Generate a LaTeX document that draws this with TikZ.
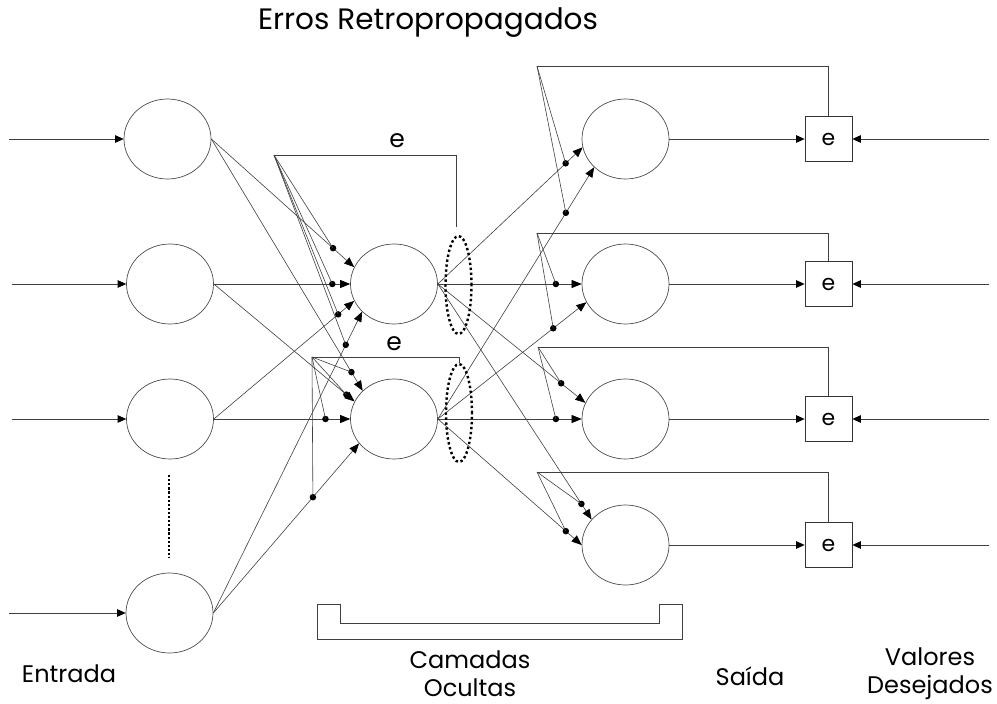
\documentclass[tikz,border=0pt]{standalone}
\usepackage{fontspec}
\setmainfont{Poppins}
\usetikzlibrary{arrows.meta,shapes.geometric}
\begin{document}
\begin{tikzpicture}[x=1pt,y=-1pt,
  neuron/.style={ellipse,draw=black!70,line width=0.7pt,minimum width=87pt,minimum height=80pt,inner sep=0pt},
  errbox/.style={rectangle,draw=black!80,line width=0.8pt,minimum width=47pt,minimum height=45pt,inner sep=0pt,font=\fontsize{22}{24}\selectfont},
  conn/.style={draw=black!75,line width=0.6pt,-{Triangle[length=10pt,width=8pt,black]}},
  inarr/.style={draw=black!75,line width=0.7pt,-{Triangle[length=8.5pt,width=7.5pt,black]}},
  wire/.style={draw=black!75,line width=0.6pt},
  wdot/.style={circle,fill=black,inner sep=0pt,minimum size=6.5pt},
  dotring/.style={draw=black,line width=2.4pt,dash pattern=on 2.4pt off 2.6pt},
  lbl/.style={font=\fontsize{24}{28}\selectfont,inner sep=0pt},
  elbl/.style={font=\fontsize{25}{26}\selectfont,inner sep=0pt}
]
\useasboundingbox (0,0) rectangle (997,704);

% neurons
\node[neuron] (I1) at (167.5,139) {};
\node[neuron] (I2) at (170,284) {};
\node[neuron] (I3) at (170,419) {};
\node[neuron] (I4) at (169.5,613) {};
\node[neuron] (H1) at (394,284) {};
\node[neuron] (H2) at (394,419) {};
\node[neuron] (O1) at (625.5,139) {};
\node[neuron] (O2) at (625.5,284) {};
\node[neuron] (O3) at (625.5,419) {};
\node[neuron] (O4) at (625.5,545) {};

% error boxes
\node[errbox] (E1) at (828.5,139) {e};
\node[errbox] (E2) at (828.5,284) {e};
\node[errbox] (E3) at (828.5,419) {e};
\node[errbox] (E4) at (828.5,545) {e};

% input arrows
\coordinate (s1) at (9,139);
\coordinate (s2) at (12,284);
\coordinate (s3) at (12,419);
\coordinate (s4) at (9,613);
\draw[inarr] (s1) -- (I1.west);
\draw[inarr] (s2) -- (I2.west);
\draw[inarr] (s3) -- (I3.west);
\draw[inarr] (s4) -- (I4.west);

% dotted continuation
\coordinate (v1) at (169,475);
\coordinate (v2) at (169,558);
\draw[line width=2.4pt,dash pattern=on 2.2pt off 1.9pt] (v1) -- (v2);

% input -> hidden
\draw[conn] (I1.east) -- node[wdot,pos=0.852] (a11) {} (H1.157.5);
\draw[conn] (I1.east) -- node[wdot,pos=0.926] (a12) {} (H2.138.6);
\draw[conn] (I2.east) -- node[wdot,pos=0.869] (a21) {} (H1.west);
\draw[conn] (I2.east) -- node[wdot,pos=0.942] (a22) {} (H2.156.8);
\draw[conn] (I3.east) -- node[wdot,pos=0.886] (a31) {} (H1.203.7);
\draw[conn] (I3.east) -- node[wdot,pos=0.819] (a32) {} (H2.west);
\draw[conn] (I4.east) -- node[wdot,pos=0.890] (a41) {} (H1.221.5);
\draw[conn] (I4.east) -- node[wdot,pos=0.683] (a42) {} (H2.215.8);

% hidden -> output
\draw[conn] (H1.east) -- node[wdot,pos=0.883] (b11) {} (O1.191.7);
\draw[conn] (H1.east) -- node[wdot,pos=0.821] (b12) {} (O2.west);
\draw[conn] (H1.east) -- node[wdot,pos=0.836] (b13) {} (O3.158.2);
\draw[conn] (H1.east) -- node[wdot,pos=0.934] (b14) {} (O4.143.5);
\draw[conn] (H2.east) -- node[wdot,pos=0.819] (b21) {} (O1.222.8);
\draw[conn] (H2.east) -- node[wdot,pos=0.777] (b22) {} (O2.205.1);
\draw[conn] (H2.east) -- node[wdot,pos=0.821] (b23) {} (O3.west);
\draw[conn] (H2.east) -- node[wdot,pos=0.890] (b24) {} (O4.west);

% output -> error boxes, desired values -> error boxes
\foreach \i in {1,2,3,4}{
  \draw[inarr] (O\i.east) -- (E\i.west);
}
\coordinate (t1) at (989,139);
\coordinate (t2) at (989,284);
\coordinate (t3) at (989,419);
\coordinate (t4) at (989,545);
\foreach \i in {1,2,3,4}{
  \draw[inarr] (t\i) -- (E\i.east);
}

% dotted rings round hidden outputs
\node[ellipse,dotring,minimum width=26pt,minimum height=98pt,inner sep=0pt] (R1) at (458.5,285) {};
\node[ellipse,dotring,minimum width=26pt,minimum height=98pt,inner sep=0pt] (R2) at (459,413) {};

% hidden feedback (errors back-propagated)
\coordinate (ah1) at (274,155);
\coordinate (ah2) at (312,357);
\coordinate (r1top) at (456,227);
\draw[wire] (r1top) |- (ah1);
\draw[wire] (R2.north) |- (ah2);
\foreach \d in {a11,a21,a31,a41}{ \draw[wire] (ah1) -- (\d.center); }
\foreach \d in {a12,a22,a32,a42}{ \draw[wire] (ah2) -- (\d.center); }
\node[elbl] (eh1) at (397,141) {e};
\node[elbl] (eh2) at (394,344) {e};

% output feedback
\coordinate (ao1) at (537,66);
\coordinate (ao2) at (537,233);
\coordinate (ao3) at (538,347);
\coordinate (ao4) at (537,472);
\foreach \i in {1,2,3,4}{
  \draw[wire] (E\i.north) |- (ao\i);
  \draw[wire] (ao\i) -- (b1\i.center);
  \draw[wire] (ao\i) -- (b2\i.center);
}

% bracket for hidden layers
\draw[wire,line width=0.7pt] (317,604) -- (340,604) -- (340,623) -- (659,623) -- (659,604) -- (682,604) -- (682,639) -- (317,639) -- cycle;

% labels
\node[font=\fontsize{29.5}{31}\selectfont,inner sep=0pt] (title) at (428,23) {Erros Retropropagados};
\node[lbl] (lin) at (69,674) {Entrada};
\node[lbl,align=center] (lhid) at (470,674) {Camadas\\Ocultas};
\node[lbl] (lout) at (750,676) {Saída};
\node[lbl,align=center] (ldes) at (930,674) {Valores\\Desejados};
\end{tikzpicture}
\end{document}
